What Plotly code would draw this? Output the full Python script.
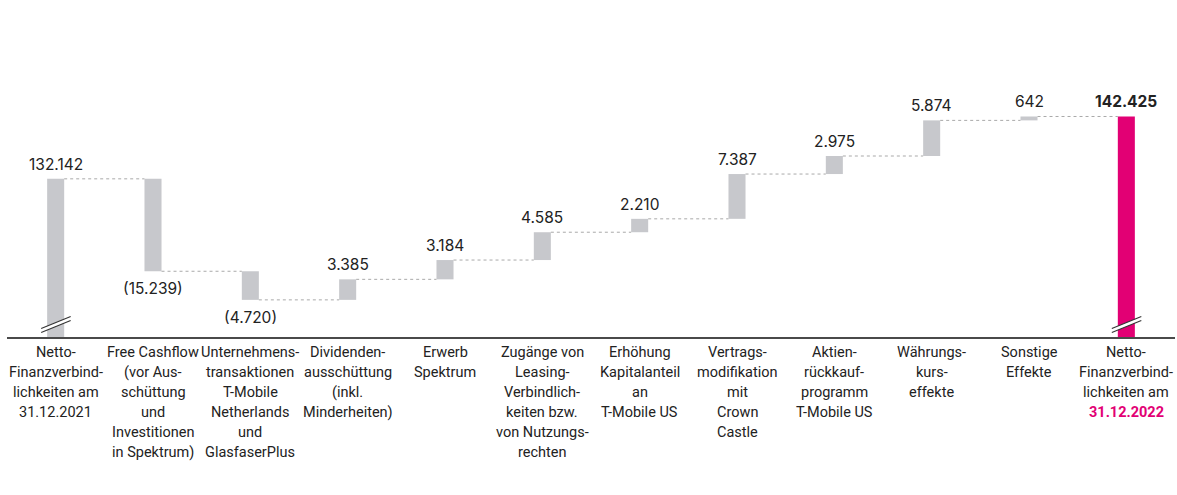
import plotly.graph_objects as go

# ---------------- data ----------------
categories = [
    "Netto-<br>Finanzverbind-<br>lichkeiten am<br>31.12.2021",
    "Free Cashflow<br>(vor Aus-<br>schüttung<br>und<br>Investitionen<br>in Spektrum)",
    "Unternehmens-<br>transaktionen<br>T-Mobile<br>Netherlands<br>und<br>GlasfaserPlus",
    "Dividenden-<br>ausschüttung<br>(inkl.<br>Minderheiten)",
    "Erwerb<br>Spektrum",
    "Zugänge von<br>Leasing-<br>Verbindlich-<br>keiten bzw.<br>von Nutzungs-<br>rechten",
    "Erhöhung<br>Kapitalanteil<br>an<br>T-Mobile US",
    "Vertrags-<br>modifikation<br>mit<br>Crown<br>Castle",
    "Aktien-<br>rückkauf-<br>programm<br>T-Mobile US",
    "Währungs-<br>kurs-<br>effekte",
    "Sonstige<br>Effekte",
    "Netto-<br>Finanzverbind-<br>lichkeiten am<br><span style='color:#e20074'><b>31.12.2022</b></span>",
]
start_value = 132142          # Mio. €
changes = [-15239, -4720, 3385, 3184, 4585, 2210, 7387, 2975, 5874, 642]
end_value = 142425

# ---------------- style / layout constants ----------------
W, H = 1177, 495
M_L, M_R, M_T, M_B = 7, 2, 60, 158
Y_MIN, Y_MAX = 106060, 151740
BAR_W = 0.175
GREY = "#c7c8cc"
MAGENTA = "#e20074"
TEXT = "#222222"
CAT_LINE_H = 20
CAT_FIRST = 15

n = len(categories)
plot_w = W - M_L - M_R
plot_h = H - M_T - M_B
px_x = n / plot_w                    # x-units per pixel
px_y = (Y_MAX - Y_MIN) / plot_h      # y-units per pixel

def fmt(v):
    s = f"{abs(v):,}".replace(",", ".")
    return f"({s})" if v < 0 else s

# compute bar bases/heights from the data
bases, heights, colors, levels = [], [], [], []
bases.append(0); heights.append(start_value); colors.append(GREY)
level = start_value
levels.append(level)
for c in changes:
    lo = min(level, level + c)
    bases.append(lo); heights.append(abs(c)); colors.append(GREY)
    level += c
    levels.append(level)
bases.append(0); heights.append(end_value); colors.append(MAGENTA)
levels.append(end_value)

xs = list(range(n))
fig = go.Figure()

# connectors
for i in range(n - 1):
    fig.add_trace(go.Scatter(
        x=[i + BAR_W / 2, i + 1 - BAR_W / 2], y=[levels[i], levels[i]],
        mode="lines", line=dict(color="#a9a9a9", width=1, dash="dot"),
        hoverinfo="skip", showlegend=False))

fig.add_trace(go.Bar(
    x=xs, y=heights, base=bases, width=BAR_W,
    marker=dict(color=colors, line=dict(width=0)),
    hoverinfo="skip", showlegend=False))

# value labels
LABEL_FONT = dict(family="Inter", size=15.5, color=TEXT)
annotations = []
vals = [start_value] + changes + [end_value]
for i, v in enumerate(vals):
    top = bases[i] + heights[i]
    bottom = bases[i]
    if i == n - 1:
        annotations.append(dict(x=i, y=top, text=f"<b>{fmt(v)}</b>", showarrow=False,
                                yanchor="bottom", yshift=3, font=LABEL_FONT))
    elif v < 0:
        annotations.append(dict(x=i, y=bottom, text=fmt(v), showarrow=False,
                                yanchor="top", yshift=-6, font=LABEL_FONT))
    else:
        annotations.append(dict(x=i, y=top, text=fmt(v), showarrow=False,
                                yanchor="bottom", yshift=3, font=LABEL_FONT))

# category labels (one annotation per line to control line spacing)
CAT_FONT = dict(family="Roboto", size=14.5, color=TEXT)
for i, cat in enumerate(categories):
    for j, line in enumerate(cat.split("<br>")):
        annotations.append(dict(x=i, xref="x", y=0, yref="paper", text=line,
                                showarrow=False, yanchor="middle", xanchor="center",
                                yshift=-(CAT_FIRST + CAT_LINE_H * j), font=CAT_FONT))

# axis-break marks on the total bars
shapes = []
for i in (0, n - 1):
    x0 = i - 14.5 * px_x
    x1 = i + 15.0 * px_x
    ya0 = Y_MIN + 4.5 * px_y
    ya1 = Y_MIN + 16.5 * px_y
    gap = 4.0 * px_y
    shapes.append(dict(type="path", xref="x", yref="y",
                       path=f"M {x0} {ya0} L {x1} {ya1} L {x1} {ya1 + gap} L {x0} {ya0 + gap} Z",
                       fillcolor="white", line=dict(width=0), layer="above"))
    for off in (0, gap):
        shapes.append(dict(type="line", xref="x", yref="y",
                           x0=x0, y0=ya0 + off, x1=x1, y1=ya1 + off,
                           line=dict(color="#333333", width=1.1), layer="above"))

fig.update_layout(
    template="none",
    width=W, height=H,
    margin=dict(l=M_L, r=M_R, t=M_T, b=M_B, autoexpand=False),
    paper_bgcolor="white", plot_bgcolor="white",
    annotations=annotations, shapes=shapes,
    showlegend=False,
    xaxis=dict(range=[-0.5, n - 0.5], tickmode="array", tickvals=xs, ticktext=[""] * n,
               showticklabels=False,
               showgrid=False, zeroline=False, showline=True, linecolor="#4a4a4a",
               linewidth=1.5, ticks="", automargin=False),
    yaxis=dict(range=[Y_MIN, Y_MAX], visible=False, showgrid=False, zeroline=False,
               automargin=False),
)

fig.write_html("out.html", config={"displayModeBar": False},
               post_script="document.body.style.margin='0px';document.body.style.padding='0px';")
